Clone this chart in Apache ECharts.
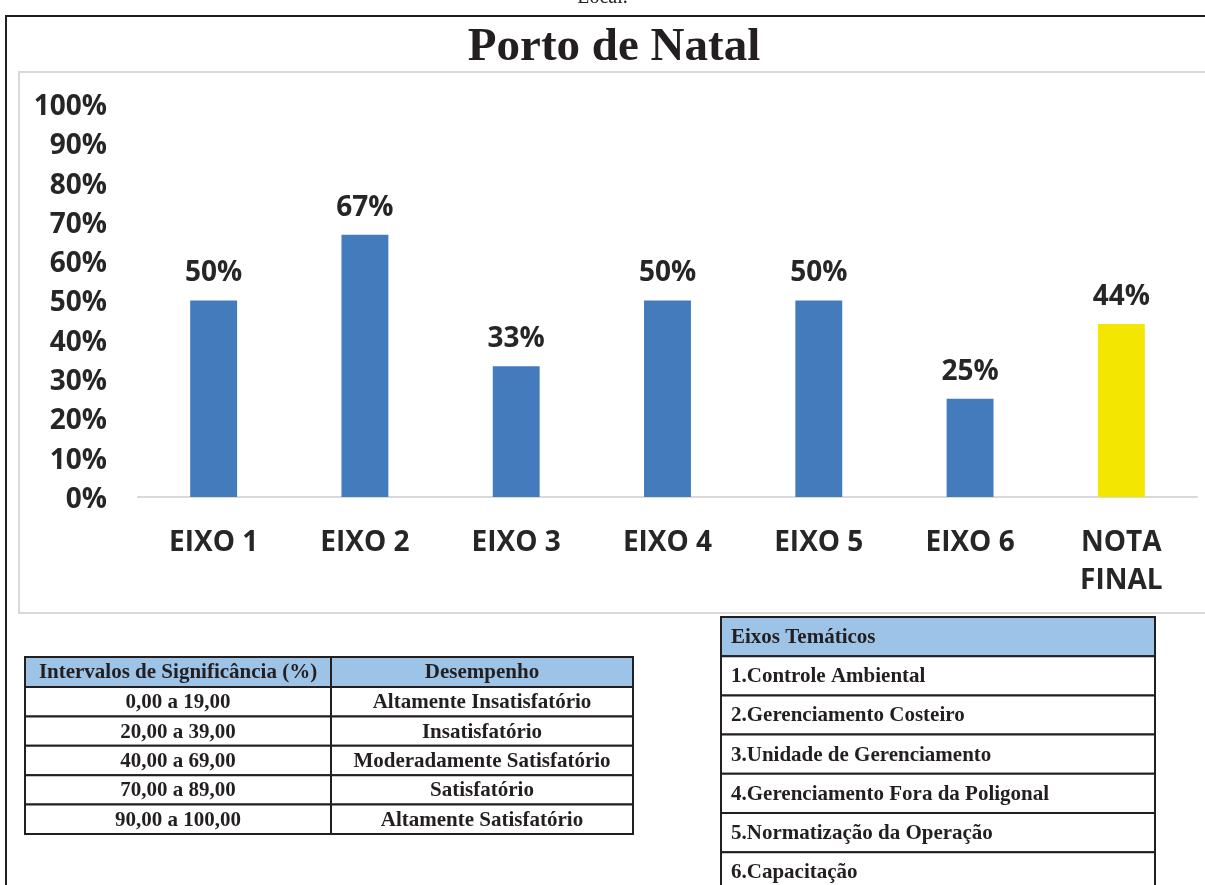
<!DOCTYPE html>
<html>
<head>
<meta charset="utf-8">
<script src="https://cdn.jsdelivr.net/npm/echarts@6/dist/echarts.min.js"></script>
<style>
  html, body { margin: 0; padding: 0; background: #fff; }
  #charts { width: 1205px; height: 885px; }
</style>
</head>
<body>
<div id="charts"></div>
<script>
var categories = ['EIXO 1', 'EIXO 2', 'EIXO 3', 'EIXO 4', 'EIXO 5', 'EIXO 6', 'NOTA\nFINAL'];
var scores = [0.50, 0.667, 0.333, 0.50, 0.50, 0.25, 0.44];
var barColors = ['#447bbd', '#447bbd', '#447bbd', '#447bbd', '#447bbd', '#447bbd', '#f3e600'];

var intervalos = ['0,00 a 19,00', '20,00 a 39,00', '40,00 a 69,00', '70,00 a 89,00', '90,00 a 100,00'];
var desempenho = ['Altamente Insatisfatório', 'Insatisfatório', 'Moderadamente Satisfatório', 'Satisfatório', 'Altamente Satisfatório'];
var eixos = ['1.Controle Ambiental', '2.Gerenciamento Costeiro', '3.Unidade de Gerenciamento',
    '4.Gerenciamento Fora da Poligonal', '5.Normatização da Operação', '6.Capacitação'];

var sansBold = { fontFamily: 'Open Sans', fontWeight: 'bold', fontSize: 28, color: '#262626' };
var serif = 'Liberation Serif';
var ink = '#231f20';
var headBlue = '#9dc3e6';

function buildGraphics() {
    var g = [];
    // page frame and chart border
    g.push({ type: 'text', left: 'center', top: -12, style: { text: 'Local.', font: '20px ' + serif, fill: '#222' } });
    g.push({ type: 'polyline', shape: { points: [[6, 885], [6, 16], [1205, 16]] }, style: { stroke: ink, lineWidth: 2, fill: null } });
    g.push({ type: 'rect', shape: { x: 19, y: 72, width: 1200, height: 541 }, style: { stroke: '#d9d9d9', lineWidth: 2, fill: null } });
    g.push({ type: 'text', x: 614, y: 24, style: { text: 'Porto de Natal', font: 'bold 47px ' + serif, fill: ink, textAlign: 'center' } });

    // table 1: intervalos / desempenho
    var x0 = 25, x1 = 331, x2 = 633, top = 657, headH = 30, rowH = 29.4;
    var f1 = 'bold 21px ' + serif;
    g.push({ type: 'rect', shape: { x: x0, y: top, width: x2 - x0, height: headH }, style: { fill: headBlue, stroke: ink, lineWidth: 2 } });
    g.push({ type: 'text', x: (x0 + x1) / 2, y: top + headH / 2 + 1, style: { text: 'Intervalos de Significância (%)', font: f1, fill: ink, textAlign: 'center', textVerticalAlign: 'middle' } });
    g.push({ type: 'text', x: (x1 + x2) / 2, y: top + headH / 2 + 1, style: { text: 'Desempenho', font: f1, fill: ink, textAlign: 'center', textVerticalAlign: 'middle' } });
    intervalos.forEach(function (t, i) {
        var y = top + headH + i * rowH;
        g.push({ type: 'rect', shape: { x: x0, y: y, width: x2 - x0, height: rowH }, style: { fill: '#fff', stroke: ink, lineWidth: 2 } });
        g.push({ type: 'text', x: (x0 + x1) / 2, y: y + rowH / 2 + 1, style: { text: t, font: f1, fill: ink, textAlign: 'center', textVerticalAlign: 'middle' } });
        g.push({ type: 'text', x: (x1 + x2) / 2, y: y + rowH / 2 + 1, style: { text: desempenho[i], font: f1, fill: ink, textAlign: 'center', textVerticalAlign: 'middle' } });
    });
    g.push({ type: 'line', shape: { x1: x1, y1: top, x2: x1, y2: top + headH + intervalos.length * rowH }, style: { stroke: ink, lineWidth: 2 } });

    // table 2: eixos tematicos
    var ex0 = 721, ex1 = 1155, etop = 617, eh = 39.2;
    var f2 = 'bold 21px ' + serif;
    g.push({ type: 'rect', shape: { x: ex0, y: etop, width: ex1 - ex0, height: eh }, style: { fill: headBlue, stroke: ink, lineWidth: 2 } });
    g.push({ type: 'text', x: ex0 + 10, y: etop + eh / 2 + 1, style: { text: 'Eixos Temáticos', font: f2, fill: ink, textVerticalAlign: 'middle' } });
    eixos.forEach(function (t, i) {
        var y = etop + eh * (i + 1);
        g.push({ type: 'rect', shape: { x: ex0, y: y, width: ex1 - ex0, height: eh }, style: { fill: '#fff', stroke: ink, lineWidth: 2 } });
        g.push({ type: 'text', x: ex0 + 10, y: y + eh / 2 + 1, style: { text: t, font: f2, fill: ink, textVerticalAlign: 'middle' } });
    });
    return g;
}

window.onload = function () {
    var myChart = echarts.init(document.getElementById('charts'));
    var option = {
        animation: false,
        grid: { left: 138, right: 8, top: 104, bottom: 885 - 497 },
        xAxis: {
            type: 'category',
            data: categories,
            axisLine: { lineStyle: { color: '#d9d9d9', width: 2 } },
            axisTick: { show: false },
            axisLabel: Object.assign({ margin: 27, lineHeight: 38, interval: 0 }, sansBold)
        },
        yAxis: {
            type: 'value',
            min: 0,
            max: 1,
            interval: 0.1,
            splitLine: { show: false },
            axisLine: { show: false },
            axisLabel: Object.assign({
                margin: 31,
                verticalAlign: 'top',
                lineHeight: 6,
                formatter: function (v) { return Math.round(v * 100) + '%'; }
            }, sansBold)
        },
        series: [{
            type: 'bar',
            barWidth: '31%',
            data: scores.map(function (v, i) {
                return { value: v, itemStyle: { color: barColors[i] } };
            }),
            label: Object.assign({
                show: true,
                position: 'top',
                distance: 12,
                lineHeight: 30,
                formatter: function (p) { return Math.round(p.value * 100) + '%'; }
            }, sansBold)
        }],
        graphic: { elements: buildGraphics() }
    };
    myChart.setOption(option);
};
</script>
</body>
</html>
